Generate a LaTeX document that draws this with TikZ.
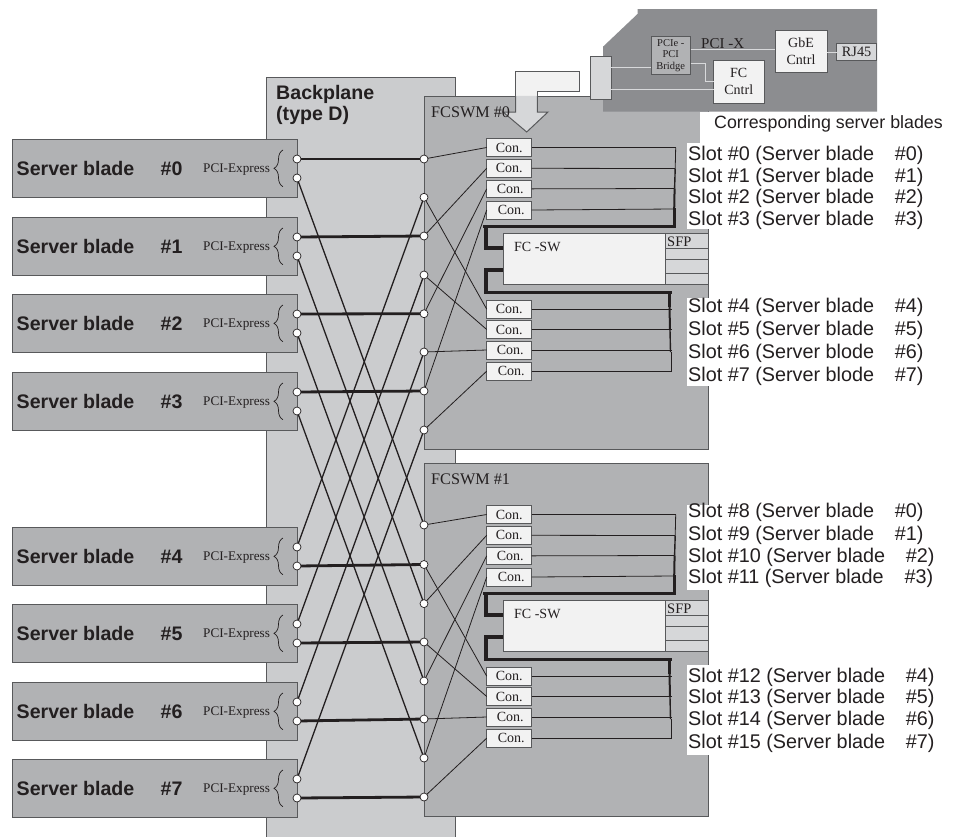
\documentclass[tikz,border=0pt]{standalone}
\usepackage{fontspec}
\setmainfont{Liberation Serif}
\setsansfont{Liberation Sans}
\usetikzlibrary{decorations.pathreplacing}
\definecolor{ink}{HTML}{231F20}
\definecolor{edge}{HTML}{58595B}
\definecolor{midgrey}{HTML}{B1B2B4}
\definecolor{lightgrey}{HTML}{CBCCCE}
\definecolor{darkgrey}{HTML}{8C8D90}
\definecolor{paler}{HTML}{D6D7D9}
\definecolor{nearwhite}{HTML}{F2F2F2}
\definecolor{wireglow}{HTML}{D8D9DB}
\newcommand{\fsz}[1]{\fontsize{#1}{#1}\selectfont}
% \rectnode[style]{name}{x1}{y1}{x2}{y2}{text}
\newcommand{\rectnode}[7][]{%
  \pgfmathsetmacro{\cxx}{(#3+#5)/2}%
  \pgfmathsetmacro{\cyy}{(#4+#6)/2}%
  \pgfmathsetmacro{\wdd}{#5-#3}%
  \pgfmathsetmacro{\htt}{#6-#4}%
  \node[panel,minimum width=\wdd pt,minimum height=\htt pt,#1] (#2) at (\cxx,\cyy) {#7};%
}
\tikzset{
  panel/.style={draw=edge,line width=1pt,inner sep=0pt,outer sep=0pt,align=center,text=ink},
  port/.style={circle,draw=ink,fill=white,line width=.7pt,minimum size=8pt,inner sep=0pt,outer sep=0pt},
  thickwire/.style={draw=ink,line width=2.8pt},
  crosswire/.style={draw=ink,line width=1.3pt},
  thinwire/.style={draw=ink,line width=.8pt},
  glow/.style={draw=wireglow,line width=1pt},
  conbox/.style={fill=nearwhite,draw=edge,line width=1pt,font=\fsz{14}},
  slotlabel/.style={anchor=base west,inner sep=0pt,text=ink,font=\sffamily\fsz{19.8}},
  bladelabel/.style={anchor=base west,inner sep=0pt,text=ink,font=\sffamily\bfseries\fsz{19.6}},
  serifmark/.style={anchor=base west,inner sep=0pt,text=ink},
}
% #1 prefix, #2 y offset
\newcommand{\switchblock}[2]{%
\begin{scope}[shift={(0,#2)}]
  \rectnode[fill=midgrey]{#1box}{424}{96}{708}{449}{}
\end{scope}}
% #1 prefix, #2 y offset, #3 title
\newcommand{\switchinner}[3]{%
\begin{scope}[shift={(0,#2)}]
  \node[serifmark,font=\fsz{16.2}] (#1title) at (431,117) {#3};
  \rectnode[conbox]{#1c0}{486.7}{138.3}{531.7}{156.7}{Con.}
  \rectnode[conbox]{#1c1}{486.7}{159.3}{531.7}{177.3}{Con.}
  \rectnode[conbox]{#1c2}{486.7}{180}{531.7}{197.7}{\hspace*{2pt}Con.}
  \rectnode[conbox]{#1c3}{486.7}{201}{531.7}{219}{\hspace*{4pt}Con.}
  \rectnode[conbox]{#1c4}{486.7}{300}{531.7}{318.3}{Con.}
  \rectnode[conbox]{#1c5}{486.7}{320.7}{531.7}{338.3}{Con.}
  \rectnode[conbox]{#1c6}{486.7}{341}{531.7}{359}{\hspace*{2pt}Con.}
  \rectnode[conbox]{#1c7}{486.7}{362.3}{531.7}{380}{\hspace*{4pt}Con.}
  \rectnode[fill=nearwhite]{#1sw}{503}{233.3}{665}{284.7}{}
  \node[serifmark,font=\fsz{14}] (#1swt) at (514,251) {FC -SW};
  \rectnode[fill=paler]{#1s0}{665}{233.3}{708}{248}{}
  \node[serifmark,font=\fsz{14.5}] (#1sfp) at (667,246) {SFP};
  \rectnode[fill=paler]{#1s1}{665}{248}{708}{259.5}{}
  \rectnode[fill=paler]{#1s2}{665}{259.5}{708}{273.5}{}
  \rectnode[fill=paler]{#1s3}{665}{273.5}{708}{284.7}{}
  % upper bus
  \coordinate (#1u0) at (675.7,147.5);
  \coordinate (#1u1) at (675.2,168.5);
  \coordinate (#1u2) at (674.6,188.5);
  \coordinate (#1u3) at (674.2,209);
  \coordinate (#1u4) at (674.2,226.3);
  \coordinate (#1ul) at (483.3,226.3);
  \coordinate (#1ud) at (486,226.3);
  \coordinate (#1um) at (486,247.7);
  \draw[thinwire] (#1c0.east) -- (#1u0);
  \draw[thinwire] (#1c1.east) -- (#1u1);
  \draw[thinwire] (#1c2.east) -- (#1u2);
  \draw[thinwire] (#1c3.east) -- (#1u3);
  \draw[thinwire] (#1u0) -- (#1u1);
  \draw[draw=ink,line width=1.4pt] (#1u1) -- (#1u2);
  \draw[draw=ink,line width=2pt] (#1u2) -- (#1u3);
  \draw[draw=ink,line width=3pt,line cap=rect] (#1u3) -- (#1u4);
  \draw[draw=ink,line width=3.6pt] (#1u4) -- (#1ul);
  \draw[draw=ink,line width=3.6pt] (#1ud) -- (#1um) -- (#1sw.west |- #1um);
  % lower bus
  \coordinate (#1lm) at (486,270);
  \coordinate (#1lc) at (486,292.3);
  \coordinate (#1lr) at (671.7,292.3);
  \coordinate (#1b0) at (669.5,292.3);
  \coordinate (#1b1) at (669.5,306.7);
  \coordinate (#1b2) at (670,330);
  \coordinate (#1b3) at (670.5,352);
  \coordinate (#1b4) at (671.5,370.9);
  \coordinate (#1b5) at (671.5,352);
  \draw[draw=ink,line width=3.6pt] (#1sw.west |- #1lm) -- (#1lm) -- (#1lc) -- (#1lr);
  \draw[draw=ink,line width=3pt] (#1b0) -- (#1b1);
  \draw[draw=ink,line width=2pt] (#1b1) -- (#1b2);
  \draw[draw=ink,line width=1.4pt] (#1b2) -- (#1b3);
  \draw[thinwire] (#1b5) -- (#1b4);
  \draw[thinwire] (#1c4.east) -- (#1c4.east -| #1b5);
  \draw[thinwire] (#1c5.east) -- (#1c5.east -| #1b5);
  \draw[thinwire] (#1c6.east) -- (#1c6.east -| #1b5);
  \draw[thinwire] (#1c7.east) -- (#1c7.east -| #1b5);
\end{scope}}
\begin{document}
\begin{tikzpicture}[x=1pt,y=-1pt]
\useasboundingbox (0,0) rectangle (958,836);
\fill[white] (0,0) rectangle (958,836);
% backplane
\rectnode[fill=lightgrey]{backplane}{266}{77}{455}{845}{}
\node[bladelabel] (bpa) at (276,99.5) {Backplane};
\node[bladelabel] (bpb) at (276,120) {(type D)};
% switch modules
\switchblock{x}{0}
\switchblock{y}{367}
% server blades
\foreach \i/\t in {0/139,1/217,2/294,3/372,4/527,5/604,6/682,7/759}{
  \pgfmathsetmacro{\bot}{\t+58.5}
  \rectnode[fill=midgrey]{blade\i}{12}{\t}{297}{\bot}{}
  \begin{scope}[shift={(0,\t)}]
    \node[bladelabel] (bn\i) at (16.5,36.5) {Server blade};
    \node[bladelabel] (bh\i) at (160.5,36.5) {\#\i};
    \node[serifmark,font=\fsz{13.2}] (bp\i) at (203,33) {PCI-Express};
    \draw[ink,line width=.7pt,decorate,decoration={brace,amplitude=9pt}] (283,47.7) -- (283,11);
    \node[port] (P\i a) at (297,20) {};
    \node[port] (P\i b) at (297,39) {};
  \end{scope}
}
% backplane ports, upper then lower module
\foreach \i/\v in {0/159,1/197.3,2/236,3/275,4/313.7,5/352,6/391,7/430}{
  \node[port] (A\i) at (424,\v) {};
}
\foreach \i/\v in {0/525,1/564.5,2/603.6,3/642,4/681,5/719,6/758,7/797}{
  \node[port] (B\i) at (424,\v) {};
}
% daughter card
\path[fill=darkgrey] (637.5,9) -- (877,9) -- (877,111.7) -- (603,111.7) -- (603,46.7) -- (637.5,14) -- cycle;
% arrow
\path[fill=nearwhite,draw=edge,line width=1pt] (515.7,96) -- (515.7,71) -- (579.7,71) -- (579.7,91.7) -- (537.3,91.7) -- (537.3,96);
\path[fill=paler] (515.7,95.8) -- (537.3,95.8) -- (537.3,112) -- (548,112) -- (526.7,132) -- (503,112) -- (515.7,112) -- cycle;
\draw[edge,line width=1pt] (515.7,96) -- (515.7,112) -- (503,112) -- (526.7,132) -- (548,112) -- (537.3,112) -- (537.3,96);
% daughter card parts
\rectnode[fill=paler]{cardcon}{590.7}{56.3}{611}{99.7}{}
\rectnode[fill=midgrey,font=\fsz{10.5},text=ink]{bridge}{651}{36.7}{690.5}{74.3}{PCIe -\\[1.2pt]PCI\\[1.2pt]Bridge}
\rectnode[fill=nearwhite,font=\fsz{14}]{gbe}{775}{30.3}{827}{72.7}{GbE\\[3pt]Cntrl}
\rectnode[fill=nearwhite,font=\fsz{14}]{fc}{713.5}{60.3}{764}{103}{FC\\[3pt]Cntrl}
\rectnode[fill=paler,font=\fsz{14.3}]{rj}{836.8}{43.3}{876.5}{60.7}{RJ45}
\coordinate (k1) at (705,63.3);
\coordinate (k2) at (705,81.7);
\draw[glow] (cardcon.east |- bridge.center) ++(0,11.5) coordinate (q1) -- (q1 -| bridge.west);
\draw[glow] (cardcon.east |- fc.south) ++(0,-14) coordinate (q2) -- (q2 -| fc.west);
\draw[glow] (bridge.east |- gbe.center) ++(0,-2.2) coordinate (q3) -- (q3 -| gbe.west);
\draw[glow] (bridge.east |- k1) -- (k1) -- (k2) -- (fc.west |- k2);
\draw[glow] (gbe.east |- rj.center) -- (rj.west);
\node[serifmark,font=\fsz{15}] (pcix) at (701,48) {PCI -X};
% white label bands
\fill[white] (700,112) rectangle (958,142.7);
\fill[white] (686.7,142.7) rectangle (958,229);
\fill[white] (686.7,298) rectangle (958,386);
\fill[white] (686.7,505) rectangle (958,590);
\fill[white] (686.7,665) rectangle (958,755);
\node[anchor=base west,inner sep=0pt,text=ink,font=\sffamily\fsz{17.8}] (corr) at (714,128) {Corresponding server blades};
% labels of slots
\foreach \i/\v/\a/\h in {0/160/blade/0,1/182/blade/1,2/203/blade/2,3/225/blade/3,
  4/312/blade/4,5/335/blade/5,6/358/blode/6,7/381/blode/7,
  8/517/blade/0,9/540/blade/1,10/562/blade/2,11/583/blade/3,
  12/682/blade/4,13/703/blade/5,14/725/blade/6,15/748/blade/7}{
  \node[slotlabel] (slot\i) at (688,\v) {Slot \#\i{} (Server \a\hspace{1.05em}\#\h)};
}
% switch internals
\switchinner{x}{0}{FCSWM \#0}
\switchinner{y}{367}{FCSWM \#1}
% thick straight links
\foreach \i/\j in {0/0,1/2,2/4,3/6}{ \draw[thickwire] (P\i a) -- (A\j); }
\foreach \i/\j in {4/1,5/3,6/5,7/7}{ \draw[thickwire] (P\i b) -- (B\j); }
% crossing links
\foreach \i/\j in {0/0,1/2,2/4,3/6}{ \draw[crosswire] (P\i b) -- (B\j); }
\foreach \i/\j in {4/1,5/3,6/5,7/7}{ \draw[crosswire] (P\i a) -- (A\j); }
% port to connector links
\foreach \m/\p in {x/A,y/B}{
  \draw[thinwire] (\p0) -- (\m c0.west);
  \draw[thinwire] (\p2) -- (\m c1.west);
  \draw[thinwire] (\p4) -- (\m c2.west);
  \draw[thinwire] (\p6) -- (\m c3.west);
  \draw[thinwire] (\p1) -- (\m c4.west);
  \draw[thinwire] (\p3) -- (\m c5.west);
  \draw[thinwire] (\p5) -- (\m c6.west);
  \draw[thinwire] (\p7) -- (\m c7.west);
}
\end{tikzpicture}
\end{document}
